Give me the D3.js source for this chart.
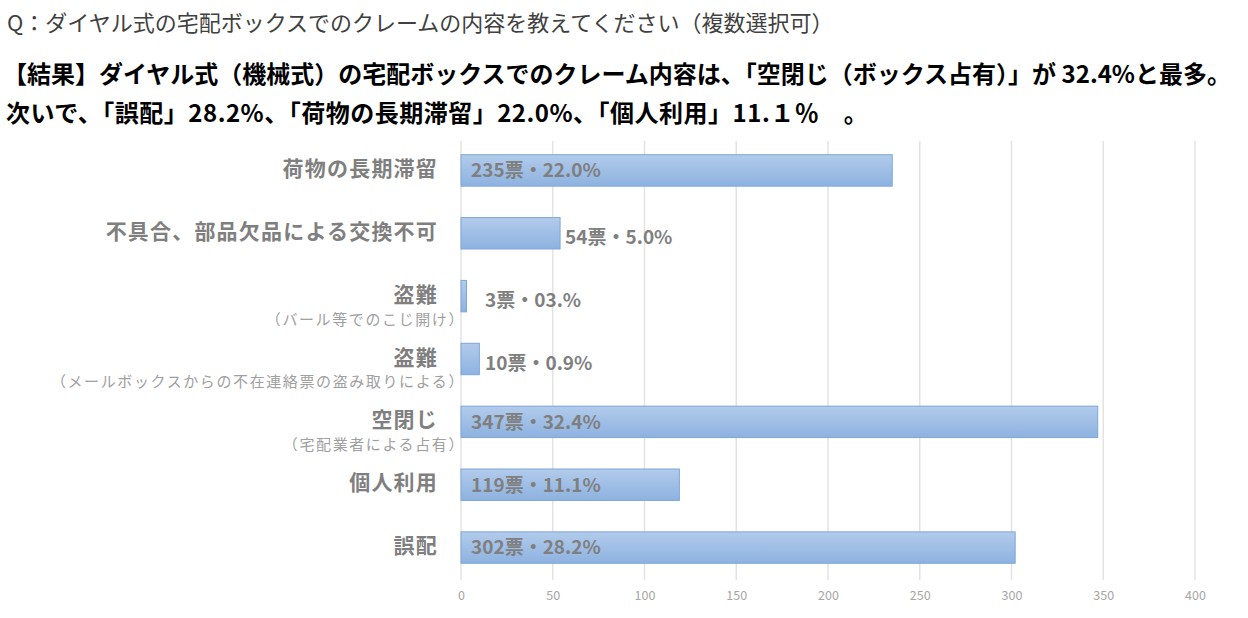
<!DOCTYPE html>
<html>
<head>
<meta charset="utf-8">
<script src="https://cdn.jsdelivr.net/npm/d3@7"></script>
<style>
  body { margin: 0; background: #fff; }
  svg { font-family: "Noto Sans CJK JP", "Noto Sans", sans-serif; }
</style>
</head>
<body>
<svg id="chart" width="1248" height="618"></svg>
<script>
const width = 1248;
const height = 618;

// chart data
const categories = ["荷物の長期滞留", "不具合、部品欠品による交換不可", "盗難", "盗難", "空閉じ", "個人利用", "誤配"];
const subLabels = ["", "", "（バール等でのこじ開け）", "（メールボックスからの不在連絡票の盗み取りによる）", "（宅配業者による占有）", "", ""];
const votes = [235, 54, 3, 10, 347, 119, 302];
const valueLabels = ["235票・22.0%", "54票・5.0%", "3票・03.%", "10票・0.9%", "347票・32.4%", "119票・11.1%", "302票・28.2%"];
const tickValues = [0, 50, 100, 150, 200, 250, 300, 350, 400];

const titleLines = [
  "Q：ダイヤル式の宅配ボックスでのクレームの内容を教えてください（複数選択可）",
  "【結果】ダイヤル式（機械式）の宅配ボックスでのクレーム内容は、「空閉じ（ボックス占有）」が 32.4%と最多。",
  "次いで、「誤配」28.2%、「荷物の長期滞留」22.0%、「個人利用」11.１％　。"
];

const svg = d3.select("#chart");

// gradient for bars
const grad = svg.append("defs").append("linearGradient")
  .attr("id", "barFill").attr("x1", 0).attr("y1", 0).attr("x2", 0).attr("y2", 1);
grad.append("stop").attr("offset", "0%").attr("stop-color", "#b2cbeb");
grad.append("stop").attr("offset", "100%").attr("stop-color", "#8db2e0");

// titles
svg.append("text")
  .attr("x", 7).attr("y", 31)
  .attr("font-size", 22).attr("fill", "#404040")
  .text(titleLines[0]);
svg.append("text")
  .attr("x", 3).attr("y", 83)
  .attr("font-size", 24).attr("font-weight", "bold").attr("fill", "#000")
  .text(titleLines[1]);
svg.append("text")
  .attr("x", 6).attr("y", 122)
  .attr("font-size", 24).attr("font-weight", "bold").attr("fill", "#000")
  .attr("letter-spacing", 0.5)
  .text(titleLines[2]);

// scales
const x = d3.scaleLinear().domain([0, 400]).range([461, 1195]);
const y = d3.scaleBand()
  .domain(d3.range(categories.length))
  .range([139, 579])
  .paddingInner(0.5).paddingOuter(0.25);

// gridlines
svg.append("g")
  .selectAll("line")
  .data(tickValues)
  .join("line")
  .attr("x1", d => x(d)).attr("x2", d => x(d))
  .attr("y1", 141).attr("y2", 580)
  .attr("stroke", "#e3e3e3")
  .attr("stroke-width", 1.5);

// x axis tick labels
const xAxis = svg.append("g")
  .attr("transform", "translate(0,580)")
  .call(d3.axisBottom(x).tickValues(tickValues).tickSize(0).tickPadding(11));
xAxis.select(".domain").remove();
xAxis.selectAll("text")
  .attr("font-family", "\"Noto Sans CJK JP\", sans-serif")
  .attr("font-size", 12.5)
  .attr("fill", "#a6a6a6");

// bars
svg.append("g")
  .selectAll("rect")
  .data(votes)
  .join("rect")
  .attr("x", x(0))
  .attr("y", (d, i) => y(i))
  .attr("width", d => x(d) - x(0))
  .attr("height", y.bandwidth())
  .attr("fill", "url(#barFill)")
  .attr("stroke", "#7ea6da")
  .attr("stroke-width", 1);

// value labels: inside base for long bars, outside for short ones
svg.append("g")
  .selectAll("text")
  .data(votes)
  .join("text")
  .attr("x", d => d > 100 ? x(0) + 10 : Math.max(x(d) + 5, x(0) + 24))
  .attr("y", (d, i) => y(i) + y.bandwidth() / 2 + (d > 100 ? 0 : 4))
  .attr("dy", "0.36em")
  .attr("font-size", 19)
  .attr("font-weight", "bold")
  .attr("fill", "#7f7f7f")
  .text((d, i) => valueLabels[i]);

// category labels
const cat = svg.append("g")
  .selectAll("g")
  .data(categories)
  .join("g");

cat.append("text")
  .attr("x", 438)
  .attr("y", (d, i) => y(i) + y.bandwidth() / 2 - 2)
  .attr("dy", "0.36em")
  .attr("text-anchor", "end")
  .attr("font-size", 21)
  .attr("font-weight", "bold")
  .attr("letter-spacing", 1.2)
  .attr("fill", "#7f7f7f")
  .text(d => d);

cat.append("text")
  .attr("x", 465)
  .attr("y", (d, i) => y(i) + y.bandwidth() / 2 + 23)
  .attr("dy", "0.36em")
  .attr("text-anchor", "end")
  .attr("font-size", 15)
  .attr("letter-spacing", 1.6)
  .attr("fill", "#a0a0a0")
  .text((d, i) => subLabels[i]);
</script>
</body>
</html>
